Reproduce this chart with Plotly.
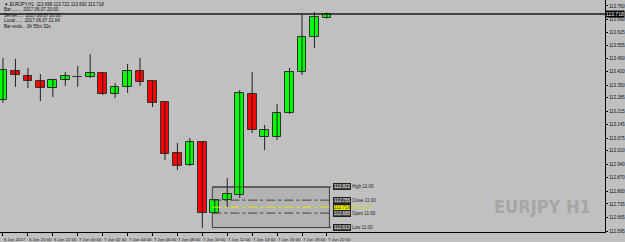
import plotly.graph_objects as go

# ---- data ----
times = ["6 Jun 18:00", "6 Jun 19:00", "6 Jun 20:00", "6 Jun 21:00", "6 Jun 22:00", "6 Jun 23:00",
         "7 Jun 00:00", "7 Jun 01:00", "7 Jun 02:00", "7 Jun 03:00", "7 Jun 04:00", "7 Jun 05:00",
         "7 Jun 06:00", "7 Jun 07:00", "7 Jun 08:00", "7 Jun 09:00", "7 Jun 10:00", "7 Jun 11:00",
         "7 Jun 12:00", "7 Jun 13:00", "7 Jun 14:00", "7 Jun 15:00", "7 Jun 16:00", "7 Jun 17:00",
         "7 Jun 18:00", "7 Jun 19:00", "7 Jun 20:00"]
opens  = [113.273, 113.424, 113.398, 113.372, 113.335, 113.377, 113.392, 113.392, 113.413, 113.304,
          113.341, 113.424, 113.372, 113.263, 112.999, 112.937, 113.056, 112.688, 112.755, 112.781,
          113.304, 113.082, 113.082, 113.206, 113.418, 113.600, 113.698]
highs  = [113.491, 113.486, 113.439, 113.408, 113.382, 113.418, 113.449, 113.511, 113.418, 113.361,
          113.460, 113.491, 113.372, 113.268, 113.051, 113.076, 113.056, 112.760, 112.869, 113.325,
          113.418, 113.144, 113.253, 113.439, 113.713, 113.728, 113.726]
lows   = [113.258, 113.341, 113.335, 113.268, 113.289, 113.346, 113.341, 113.387, 113.299, 113.284,
          113.310, 113.346, 113.237, 112.963, 112.911, 112.932, 112.610, 112.683, 112.719, 112.766,
          113.102, 113.014, 113.066, 113.201, 113.403, 113.543, 113.695]
closes = [113.429, 113.403, 113.372, 113.335, 113.377, 113.398, 113.393, 113.413, 113.304, 113.341,
          113.424, 113.366, 113.258, 112.994, 112.932, 113.056, 112.688, 112.755, 112.787, 113.310,
          113.118, 113.118, 113.206, 113.418, 113.600, 113.703, 113.718]

x_tick_labels = ["6 Jun 2017", "6 Jun 20:00", "6 Jun 22:00", "7 Jun 00:00", "7 Jun 02:00",
                 "7 Jun 04:00", "7 Jun 06:00", "7 Jun 08:00", "7 Jun 10:00", "7 Jun 12:00",
                 "7 Jun 14:00", "7 Jun 16:00", "7 Jun 18:00", "7 Jun 20:00"]
y_tick_labels = ["113.760", "113.690", "113.625", "113.555", "113.490", "113.420", "113.350",
                 "113.285", "113.215", "113.145", "113.075", "113.010", "112.940", "112.870",
                 "112.800", "112.735", "112.665", "112.595"]

bid_price = 113.718
box_levels = {"High": 112.823, "Close": 112.755, "Mid": 112.719, "Open": 112.688, "Low": 112.613}
box_time = "11:00"
info_lines = ["\u25bc EURJPY,H1  113.699 113.722 113.692 113.718",
              "Bar........  2017.06.07 20:00",
              "Server.....  2017.06.07 20:00",
              "Local......  2017.06.07 21:04",
              "Bar ends..  0h 55m 32s"]
watermark = "EURJPY H1"

# ---- figure ----
idx = list(range(len(times)))
BG = "#c0c0c0"
FONT = "Liberation Sans"

wx, wy = [], []
for i in idx:
    wx += [i, i, None]
    wy += [lows[i], highs[i], None]

fig = go.Figure()
fig.add_trace(go.Scatter(x=wx, y=wy, mode="lines", line=dict(color="#202020", width=1),
                         hoverinfo="skip", showlegend=False))
bases = [min(o, c) for o, c in zip(opens, closes)]
heights = [abs(c - o) for o, c in zip(opens, closes)]
colors = ["#00ff00" if c >= o else "#ff0000" for o, c in zip(opens, closes)]
fig.add_trace(go.Bar(x=idx, y=heights, base=bases, width=0.7,
                     marker=dict(color=colors, line=dict(color="#303030", width=1)),
                     showlegend=False, text=times, hoverinfo="text", textposition="none"))

shapes = []
annotations = []

# bid line
shapes.append(dict(type="line", xref="paper", x0=0, x1=1, yref="y", y0=bid_price, y1=bid_price,
                   line=dict(color="#1a1a1a", width=1.5), layer="above"))
annotations.append(dict(xref="paper", x=1.0, y=bid_price, text=f"{bid_price:.3f}", showarrow=False,
                        xanchor="left", yanchor="middle", bgcolor="#000000", borderpad=0,
                        font=dict(color="#ffffff", size=5, family=FONT)))

# H/L box
bx0, bx1 = 16.8, 26.2
shapes.append(dict(type="rect", x0=bx0, x1=bx1, y0=box_levels["Low"], y1=box_levels["High"],
                   fillcolor="#b3b3b3", line=dict(color="#404040", width=1), layer="below"))
line_styles = {"High": ("#404040", "solid"), "Close": ("#404040", "dashdot"),
               "Mid": ("#e8e800", "dashdot"), "Open": ("#404040", "dashdot"), "Low": ("#404040", "solid")}
for name, val in box_levels.items():
    col, dash = line_styles[name]
    shapes.append(dict(type="line", x0=bx0, x1=26.35, y0=val, y1=val,
                       line=dict(color=col, width=1, dash=dash), layer="above"))
    box_fill = "#e8e800" if name == "Mid" else "#4a4a4a"
    txt_col = "#404000" if name == "Mid" else "#e0e0e0"
    annotations.append(dict(x=26.45, y=val, text=f"{val:.3f}", showarrow=False, xanchor="left",
                            yanchor="middle", bgcolor=box_fill, bordercolor="#202020", borderwidth=1,
                            borderpad=0, font=dict(color=txt_col, size=4.5, family=FONT)))
    annotations.append(dict(x=27.85, y=val, text=f"{name} {box_time}", showarrow=False, xanchor="left",
                            yanchor="middle",
                            font=dict(color="#d8d800" if name == "Mid" else "#202020", size=4.5, family=FONT)))

# x labels (left aligned at ticks)
x_tick_pos = idx[::2]
for pos, lab in zip(x_tick_pos, x_tick_labels):
    annotations.append(dict(x=pos, xanchor="left", xshift=-1, yref="paper", y=-0.012, yanchor="top",
                            text=lab, showarrow=False, font=dict(color="#101010", size=4.3, family=FONT)))

# info text
for k, line in enumerate(info_lines):
    annotations.append(dict(xref="paper", yref="paper", x=0.004, y=1 - (4 + 5.6 * k) / 232,
                            xanchor="left", yanchor="middle", text=line, showarrow=False,
                            font=dict(color="#101010", size=4.5, family=FONT)))

# watermark
annotations.append(dict(xref="paper", yref="paper", x=0.98, y=0.108, xanchor="right", yanchor="middle",
                        text=f"<b>{watermark}</b>", showarrow=False,
                        font=dict(color="#a6a6a6", size=18, family="DejaVu Sans Condensed")))

fig.update_layout(
    width=625, height=242,
    margin=dict(l=0, r=18, t=0, b=10),
    paper_bgcolor=BG, plot_bgcolor=BG,
    bargap=0, barmode="overlay",
    shapes=shapes, annotations=annotations,
    showlegend=False,
    xaxis=dict(range=[-0.24, 48.32], showgrid=False, zeroline=False, showline=True, linecolor="#000000",
               linewidth=1, ticks="outside", ticklen=3, tickcolor="#000000", tickvals=x_tick_pos,
               showticklabels=False, fixedrange=True),
    yaxis=dict(range=[112.590, 113.791], side="right", showgrid=False, zeroline=False, showline=True,
               linecolor="#000000", linewidth=1, ticks="outside", ticklen=2, tickcolor="#000000",
               tickvals=[float(v) for v in y_tick_labels], ticktext=y_tick_labels,
               tickfont=dict(size=4.5, color="#101010", family=FONT), fixedrange=True),
)

fig.write_html("out.html")
